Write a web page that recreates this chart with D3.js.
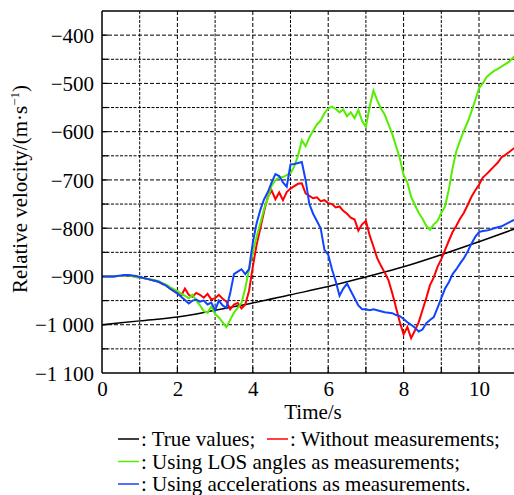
<!DOCTYPE html>
<html><head><meta charset="utf-8">
<script src="https://cdn.jsdelivr.net/npm/d3@7"></script>
<style>
body{margin:0;background:#fff}
svg{display:block}
</style>
</head><body><svg id="c" width="514" height="495"></svg>
<script>
// ---- data ----
const time = d3.range(111).map(i => +(i * 0.1).toFixed(1));

const trueTime   = [0, 1, 2, 3, 4, 5, 6, 7, 8, 9, 10, 11];
const trueValues = [-1000, -992, -984, -970, -955, -938, -921, -901, -880, -855, -828, -800];

const withoutMeas = [
 -900,-900,-900,-900,-899,-899,-898,-898,-899,-901,
 -902,-903,-905,-907,-909,-911,-916,-918,-925,-930,
 -935,-940,-925,-938,-942,-934,-938,-944,-936,-948,
 -945,-938,-946,-952,-968,-958,-955,-966,-958,-930,
 -880,-835,-800,-765,-735,-722,-740,-726,-742,-725,
 -718,-713,-708,-707,-728,-733,-738,-736,-744,-742,
 -748,-750,-757,-755,-764,-770,-778,-782,-805,-792,
 -785,-815,-838,-862,-878,-892,-908,-935,-965,-995,
 -1020,-1005,-1028,-1012,-995,-970,-945,-918,-902,-880,
 -864,-845,-826,-808,-795,-780,-768,-752,-735,-722,
 -710,-695,-688,-680,-672,-664,-653,-648,-642,-636,-632];

const losAngles = [
 -900,-900,-900,-900,-899,-899,-898,-898,-899,-901,
 -902,-903,-905,-906,-908,-910,-914,-917,-922,-926,
 -930,-936,-940,-945,-938,-950,-960,-972,-975,-962,
 -978,-985,-995,-1005,-990,-975,-965,-955,-925,-885,
 -850,-818,-790,-760,-738,-712,-700,-695,-694,-690,
 -686,-672,-650,-618,-630,-612,-598,-585,-577,-562,
 -552,-548,-553,-560,-554,-568,-560,-572,-555,-578,
 -590,-548,-515,-535,-552,-565,-585,-605,-630,-655,
 -690,-705,-735,-752,-768,-780,-795,-803,-792,-785,
 -768,-755,-720,-675,-640,-618,-598,-580,-558,-535,
 -510,-500,-487,-480,-474,-470,-465,-460,-455,-447,-440];

const accelerations = [
 -900,-900,-900,-900,-899,-898,-897,-897,-898,-899,
 -901,-903,-905,-907,-909,-911,-915,-919,-925,-930,
 -935,-942,-949,-956,-950,-948,-952,-950,-958,-954,
 -970,-950,-960,-965,-935,-895,-890,-885,-895,-885,
 -830,-790,-762,-740,-725,-705,-688,-692,-705,-714,
 -668,-667,-665,-663,-700,-750,-770,-785,-800,-845,
 -855,-885,-910,-940,-925,-915,-930,-945,-960,-968,
 -968,-970,-968,-970,-972,-974,-975,-976,-980,-982,
 -988,-995,-1000,-1006,-1014,-1010,-997,-990,-984,-965,
 -945,-925,-912,-895,-885,-873,-862,-848,-832,-818,
 -808,-806,-805,-803,-800,-798,-796,-792,-788,-784,-781];

const xTickValues = [0, 2, 4, 6, 8, 10];
const xTickLabels = ["0", "2", "4", "6", "8", "10"];
const yTickValues = [-1100, -1000, -900, -800, -700, -600, -500, -400];
const yTickLabels = ["\u22121 100", "\u22121 000", "\u2212900", "\u2212800", "\u2212700", "\u2212600", "\u2212500", "\u2212400"];
const xGridValues = [1, 2, 3, 4, 5, 6, 7, 8, 9, 10];
const yGridValues = [-1050, -1000, -950, -900, -850, -800, -750, -700, -650, -600, -550, -500, -450, -400];

const seriesNames = ["True values;", "Without measurements;", "Using LOS angles as measurements;", "Using accelerations as measurements."];
const seriesColors = ["#000000", "#ff0000", "#55ee00", "#1144ff"];

const FONT = "'Liberation Serif', 'Times New Roman', Times, 'DejaVu Serif', serif";

// ---- layout ----
const svg = d3.select("#c");
const L = 102, T = 11, B = 373, W = 514;
const x = d3.scaleLinear().domain([0, 11]).range([L, L + 11 * 37.7]);
const y = d3.scaleLinear().domain([-1100, -350]).range([B, T]);

svg.append("defs").append("clipPath").attr("id", "clip")
  .append("rect").attr("x", L).attr("y", T).attr("width", W - L).attr("height", B - T);

// grid
const grid = svg.append("g");
grid.selectAll("line.gx").data(xGridValues).join("line")
  .attr("x1", d => x(d)).attr("x2", d => x(d)).attr("y1", T).attr("y2", B)
  .attr("stroke", "#000").attr("stroke-width", 1)
  .attr("stroke-dasharray", d => d % 2 === 0 ? "4,2" : "3,1.5");
grid.selectAll("line.gy").data(yGridValues).join("line")
  .attr("x1", L).attr("x2", W).attr("y1", d => y(d)).attr("y2", d => y(d))
  .attr("stroke", "#000").attr("stroke-width", 1)
  .attr("stroke-dasharray", d => d % 100 === 0 ? "4,2" : "3,1.5");

// inward ticks
grid.selectAll("line.tx").data(xGridValues).join("line")
  .attr("x1", d => x(d)).attr("x2", d => x(d)).attr("y1", B).attr("y2", B - 6)
  .attr("stroke", "#000").attr("stroke-width", 1.2);
grid.selectAll("line.ty").data(yGridValues).join("line")
  .attr("x1", L).attr("x2", L + 6).attr("y1", d => y(d)).attr("y2", d => y(d))
  .attr("stroke", "#000").attr("stroke-width", 1.2);

// series
const lines = svg.append("g").attr("clip-path", "url(#clip)");
const smooth = d3.line().x(d => x(d[0])).y(d => y(d[1])).curve(d3.curveMonotoneX);
lines.append("path").datum(trueTime.map((t, i) => [t, trueValues[i]]))
  .attr("d", smooth).attr("fill", "none")
  .attr("stroke", seriesColors[0]).attr("stroke-width", 1.5);
const jag = d3.line().x(d => x(d[0])).y(d => y(d[1]));
[[withoutMeas, 1], [losAngles, 2], [accelerations, 3]].forEach(([vals, c]) => {
  lines.append("path").datum(time.map((t, i) => [t, vals[i]]))
    .attr("d", jag).attr("fill", "none")
    .attr("stroke", seriesColors[c]).attr("stroke-width", 2)
    .attr("stroke-linejoin", "miter");
});

// frame
svg.append("line").attr("x1", L).attr("x2", L).attr("y1", T).attr("y2", B).attr("stroke", "#000").attr("stroke-width", 1.5);
svg.append("line").attr("x1", L).attr("x2", W).attr("y1", B).attr("y2", B).attr("stroke", "#000").attr("stroke-width", 1.5);
svg.append("line").attr("x1", L).attr("x2", W).attr("y1", T).attr("y2", T).attr("stroke", "#000").attr("stroke-width", 1.5);

// axes labels via d3 axes
const xAxis = d3.axisBottom(x).tickValues(xTickValues).tickSize(0).tickPadding(0)
  .tickFormat((d, i) => xTickLabels[i]);
const gx = svg.append("g").attr("transform", `translate(0,${B})`).call(xAxis)
  .attr("font-family", null).attr("font-size", null);
gx.select(".domain").remove();
gx.selectAll("text").style("font-family", FONT).style("font-size", "21px")
  .attr("dy", null).attr("y", 23).attr("fill", "#000");

const yAxis = d3.axisLeft(y).tickValues(yTickValues).tickSize(0).tickPadding(8)
  .tickFormat((d, i) => yTickLabels[i]);
const gy = svg.append("g").attr("transform", `translate(${L},0)`).call(yAxis)
  .attr("font-family", null).attr("font-size", null);
gy.select(".domain").remove();
gy.selectAll("text").style("font-family", FONT).style("font-size", "21px")
  .attr("dy", "0.34em").attr("fill", "#000");

// axis titles
svg.append("text").attr("x", 313).attr("y", 419).attr("text-anchor", "middle")
  .style("font-family", FONT).style("font-size", "21px").text("Time/s");
const yt = svg.append("text").attr("transform", "translate(27,189) rotate(-90)")
  .attr("text-anchor", "middle").style("font-family", FONT).style("font-size", "21px");
yt.append("tspan").text("Relative velocity/(m\u00b7s");
yt.append("tspan").style("font-size", "13px").attr("dy", -8).text("\u22121");
yt.append("tspan").attr("dy", 8).text(")");

// legend
const legendRows = [
  [{s: 0, x: 118}, {s: 1, x: 267}],
  [{s: 2, x: 118}],
  [{s: 3, x: 118}]
];
const baselines = [446, 468.5, 491];
legendRows.forEach((row, r) => {
  row.forEach(item => {
    svg.append("line").attr("x1", item.x).attr("x2", item.x + 21)
      .attr("y1", baselines[r] - 7).attr("y2", baselines[r] - 7)
      .attr("stroke", seriesColors[item.s]).attr("stroke-width", 1.5);
    svg.append("text").attr("x", item.x + 23).attr("y", baselines[r])
      .style("font-family", FONT).style("font-size", "21px")
      .text(": " + seriesNames[item.s]);
  });
});
</script>
</body></html>
